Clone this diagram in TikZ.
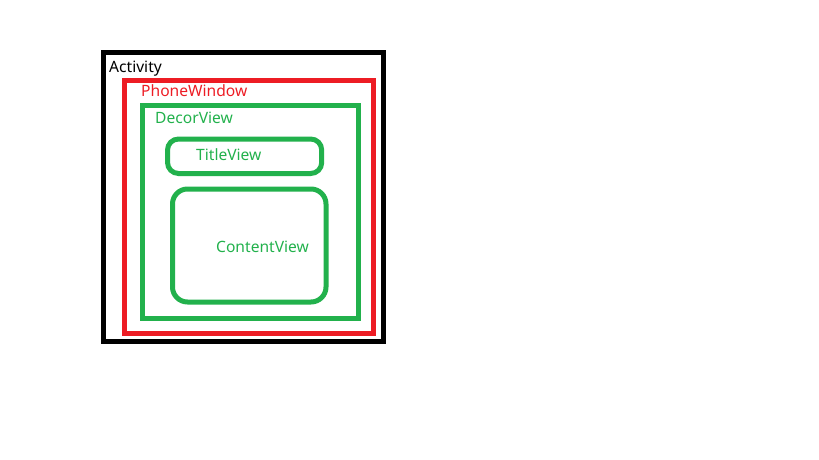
\documentclass[tikz,border=0pt]{standalone}
\usepackage{fontspec}
\setmainfont{Noto Sans}
\definecolor{pred}{HTML}{ED1C24}
\definecolor{pgreen}{HTML}{22B14C}
\tikzset{
  box/.style={line width=5pt},
  lbl/.style={anchor=base west, inner sep=0pt, font=\fontsize{15.6}{18}\selectfont},
}
\begin{document}
\begin{tikzpicture}[x=1pt,y=-1pt]
\useasboundingbox (0,0) rectangle (819,460);
\draw[box,black] (103.5,52.5) rectangle (383.5,341.5);
\draw[box,pred] (124,80) rectangle (373.5,333);
\draw[box,pgreen] (142.5,105.3) rectangle (358.3,318);
\draw[box,pgreen,rounded corners=11pt] (167.5,139) rectangle (321.7,173.5);
\draw[box,pgreen,rounded corners=15pt] (172.5,189) rectangle (326,302);
\node[lbl,text=black] (act) at (109,72.3) {Activity};
\node[lbl,text=pred] (pw) at (141,96.7) {PhoneWindow};
\node[lbl,text=pgreen] (dv) at (155,123.3) {DecorView};
\node[lbl,text=pgreen] (tv) at (196,160.7) {TitleView};
\node[lbl,text=pgreen] (cv) at (216,252.7) {ContentView};
\end{tikzpicture}
\end{document}
